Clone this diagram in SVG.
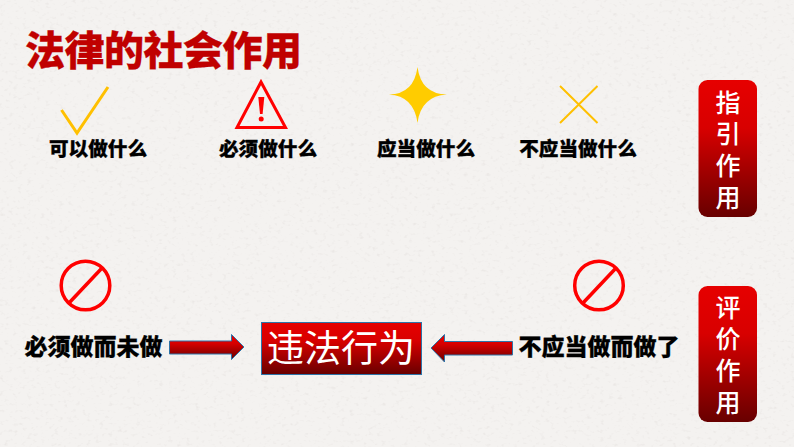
<svg xmlns="http://www.w3.org/2000/svg" width="794" height="447" viewBox="0 0 794 447">
<style>
text{font-family:"Noto Sans CJK SC","Liberation Sans",sans-serif}
.title{font-size:40px;font-weight:900;fill:#c00000;stroke:#c00000;stroke-width:.3}
.lbl{font-size:19.6px;font-weight:900;fill:#000;text-anchor:middle;stroke:#000;stroke-width:.3}
.lbl2{font-size:23px;font-weight:900;fill:#000;text-anchor:middle;stroke:#000;stroke-width:.3}
.pill{fill:url(#g)}
.pt{font-size:25px;font-weight:500;fill:#fff;writing-mode:vertical-rl;letter-spacing:6.7px}
.y{fill:none;stroke:#ffc000}
.r{fill:none;stroke:#f00;stroke-width:3.5}
.arrow{fill:url(#g);stroke:#2e74a8;stroke-width:1}
</style>
<defs>
<linearGradient id="g" x1="0" y1="0" x2="0" y2="1"><stop offset="0" stop-color="#e60000"/><stop offset=".35" stop-color="#d80000"/><stop offset="1" stop-color="#680000"/></linearGradient>
<filter id="paper" x="0" y="0" width="100%" height="100%"><feTurbulence type="fractalNoise" baseFrequency="0.22 0.3" numOctaves="2" seed="7"/><feColorMatrix values="0 0 0 0 .66  0 0 0 0 .62  0 0 0 0 .6  2.2 0 0 0 -1.25"/></filter>
</defs>
<rect width="794" height="447" fill="#f4f2f0"/>
<rect width="794" height="447" filter="url(#paper)" opacity=".4"/>
<text class="title" x="25" y="65" textLength="277">法律的社会作用</text>
<g id="can"><path class="y" stroke-width="3" d="M61.500 110 77 133 108 87"/><text class="lbl" x="98" y="156">可以做什么</text></g>
<g id="must"><path d="M261 82 237 127.500H285.500Z" fill="none" stroke="#f00" stroke-width="3"/><path d="M258.300 97h6l-1.700 17h-2.600Z" fill="#f00"/><circle cx="261.200" cy="119" r="2.500" fill="#f00"/><text class="lbl" x="268" y="156">必须做什么</text></g>
<g id="should"><path d="M417.500 67Q421 94 447 94.500 421 96 417.500 123 414 96 389 94.500 414 94 417.500 67Z" fill="#ffcc00"/><text class="lbl" x="426" y="156">应当做什么</text></g>
<g id="shouldnot"><path class="y" stroke-width="2" d="M560 86 597.500 123M597.500 86 560 123"/><text class="lbl" x="578" y="156">不应当做什么</text></g>
<g id="guide"><rect class="pill" x="698.500" y="80" width="58.500" height="137" rx="9"/><text class="pt" x="728" y="89.500">指引作用</text></g>
<g id="noleft"><circle class="r" cx="85.500" cy="285.500" r="24.300"/><path class="r" d="M69 303 102 268"/></g>
<g id="noright"><circle class="r" cx="599" cy="285.500" r="24.300"/><path class="r" d="M583 303 616 268"/></g>
<g id="missed"><text class="lbl2" x="93.500" y="355">必须做而未做</text></g>
<g id="done"><text class="lbl2" x="599" y="355" textLength="161">不应当做而做了</text></g>
<g id="illegal"><rect x="261.500" y="322.500" width="160" height="52" fill="url(#g)" stroke="#2e74a8"/><text x="341" y="362" font-size="37" font-weight="400" fill="#fff" text-anchor="middle">违法行为</text></g>
<g id="connectors">
<path class="arrow" d="M169.500 341H231.500V334.500L244 347 231.500 359.500V354H169.500Z"/>
<path class="arrow" d="M512.500 341.500H444.500V334.500L431 348 444.500 362V355H512.500Z"/>
</g>
<g id="evaluate"><rect class="pill" x="698.500" y="286" width="58.500" height="136" rx="9"/><text class="pt" x="728" y="294.500">评价作用</text></g>
</svg>
